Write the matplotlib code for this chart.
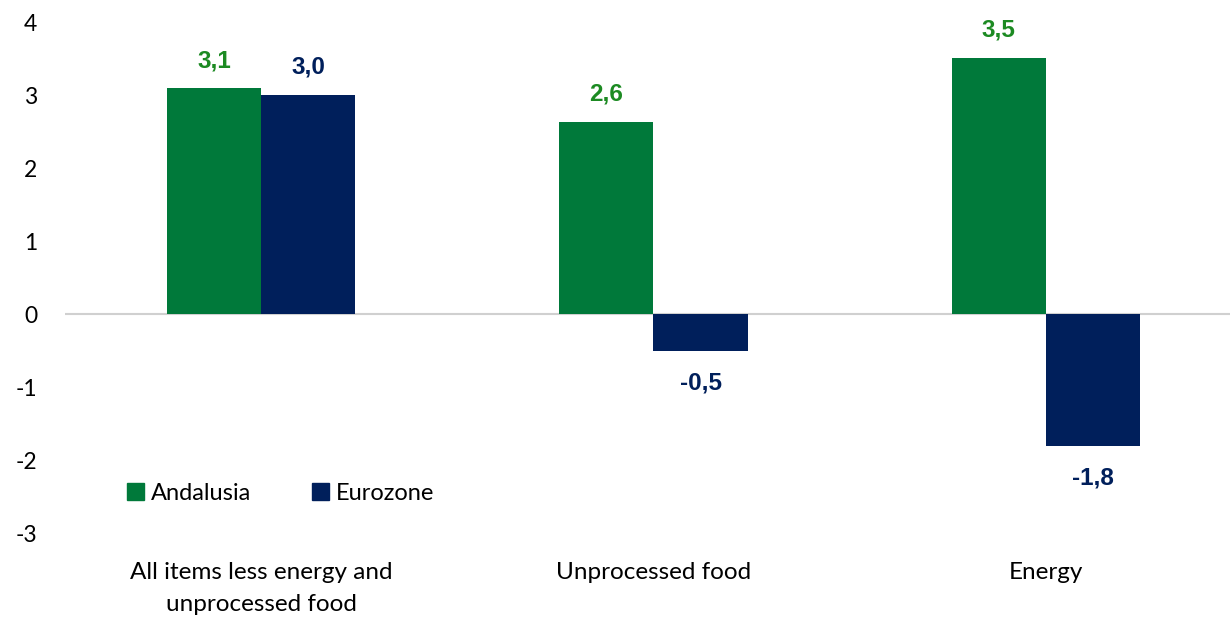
import matplotlib.pyplot as plt
import numpy as np
from matplotlib.patches import Patch

categories = ['All items less energy and\nunprocessed food', 'Unprocessed food', 'Energy']
andalusia = [3.09, 2.63, 3.51]
eurozone = [3.0, -0.5, -1.8]
series_names = ['Andalusia', 'Eurozone']

green = '#00793A'
navy = '#001F5B'
label_green = '#1C8A22'

plt.rcParams['axes.unicode_minus'] = False

fig = plt.figure(figsize=(12.3, 6.2), dpi=100)
ax = fig.add_axes([0.053, 0.140, 0.947, 0.8245])

x = np.arange(len(categories))
w = 0.24
ax.bar(x - w / 2, andalusia, w, color=green)
ax.bar(x + w / 2, eurozone, w, color=navy)

def fmt(v):
    return f'{v:.1f}'.replace('.', ',')

for xi, v in zip(x - w / 2, andalusia):
    ax.annotate(fmt(v), (xi, v), xytext=(0, 20 if v >= 0 else -23), textcoords='offset points',
                ha='center', va='center', color=label_green, fontsize=17.5, fontweight='bold',
                family='Liberation Sans')
for xi, v in zip(x + w / 2, eurozone):
    ax.annotate(fmt(v), (xi, v), xytext=(0, 20 if v >= 0 else -23), textcoords='offset points',
                ha='center', va='center', color=navy, fontsize=17.5, fontweight='bold',
                family='Liberation Sans')

ax.set_xlim(-0.5, 2.47)
ax.set_ylim(-3, 4)
ax.set_yticks(range(-3, 5))
ax.set_xticks(x)
ax.set_xticklabels(categories, family='Lato', fontsize=17.5, linespacing=1.6)
for lab in ax.get_yticklabels():
    lab.set_family('Lato')
    lab.set_fontsize(16.5)
ax.tick_params(axis='both', length=0)
ax.tick_params(axis='y', pad=20)
ax.tick_params(axis='x', pad=21)
for s in ax.spines.values():
    s.set_visible(False)
ax.axhline(0, color='#D0D0D0', lw=1.5, zorder=0)

handles = [Patch(color=green), Patch(color=navy)]
ax.legend(handles, series_names, loc='center left', bbox_to_anchor=(0.045, 0.078), ncol=2,
          frameon=False, handlelength=0.7, handleheight=0.7, handletextpad=0.3,
          columnspacing=2.6, borderaxespad=0, prop={'family': 'Lato', 'size': 17})

fig.savefig('out.png')
